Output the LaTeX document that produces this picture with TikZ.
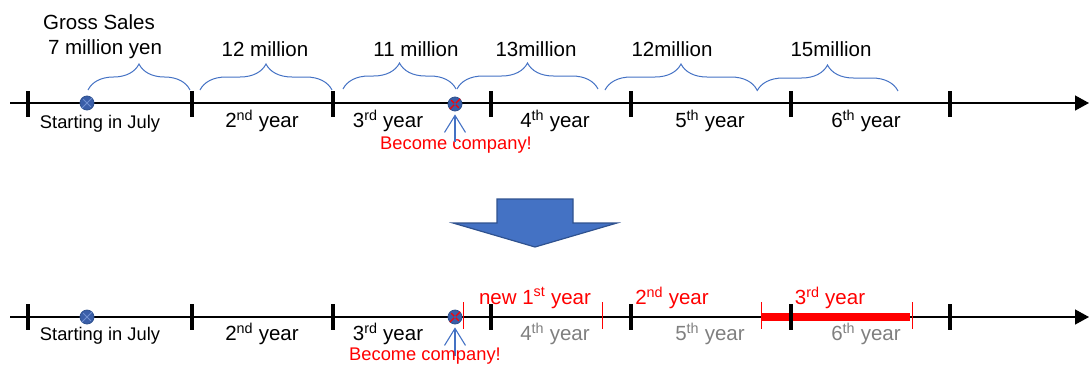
\documentclass[tikz,border=0pt]{standalone}
\usepackage{fontspec}
\setmainfont{Liberation Sans}
\usetikzlibrary{decorations.pathreplacing,arrows.meta}
\definecolor{bl}{HTML}{4472C4}
\definecolor{bldark}{HTML}{2F528F}
\definecolor{dotfill}{HTML}{3A5EA8}
\definecolor{dotx}{HTML}{6F8FD0}
\definecolor{rd}{HTML}{FF0000}
\definecolor{gr}{HTML}{7F7F7F}
\tikzset{
  axis/.style={line width=1.4pt, draw=black, -{Triangle[length=14pt,width=15pt]}},
  tick/.style={line width=3.2pt, draw=black},
  dot/.style={circle, fill=dotfill, draw=bldark, line width=0.8pt, minimum size=14pt, inner sep=0pt},
  brc/.style={draw=bl, line width=1pt, decorate, decoration={brace, amplitude=26pt}},
  big/.style={inner sep=0pt, font=\fontsize{20.5}{24}\selectfont},
  small/.style={inner sep=0pt, font=\fontsize{18.3}{22}\selectfont},
  upar/.style={draw=bl, line width=1.1pt, -{Straight Barb[length=17pt,width=21pt]}, shorten >=3pt},
  rtick/.style={draw=rd, line width=0.9pt},
}
\begin{document}
\begin{tikzpicture}[x=1pt,y=-1pt]
\useasboundingbox (0,0) rectangle (1090,365);

% ---------- top timeline ----------
\coordinate (L1) at (10,103);
\coordinate (R1) at (1089,103);
\draw[axis] (L1) -- (R1);
\foreach \x in {28,192,333,491,631,791,950}
  \draw[tick] (\x,91) -- (\x,117);

\node[dot] (d1) at (87,103) {};
\draw[dotx, line width=0.9pt, shorten <=2pt, shorten >=2pt] (d1.45) -- (d1.225) (d1.135) -- (d1.315);
\node[dot] (d2) at (455,104) {};
\draw[rd, line width=1.3pt, shorten <=2pt, shorten >=2pt] (d2.45) -- (d2.225) (d2.135) -- (d2.315);
\fill[dotfill] (d2) circle (1.6pt);

% braces
\coordinate (b1a) at (88,90);  \coordinate (b1b) at (190,90);
\coordinate (b2a) at (200,90); \coordinate (b2b) at (332,90);
\coordinate (b3a) at (343,89); \coordinate (b3b) at (456,89);
\coordinate (b4a) at (457,89); \coordinate (b4b) at (598,89);
\coordinate (b5a) at (605,90); \coordinate (b5b) at (757,90);
\coordinate (b6a) at (757,91); \coordinate (b6b) at (898,91);
\draw[brc] (b1a) -- (b1b);
\draw[brc] (b2a) -- (b2b);
\draw[brc] (b3a) -- (b3b);
\draw[brc] (b4a) -- (b4b);
\draw[brc] (b5a) -- (b5b);
\draw[brc] (b6a) -- (b6b);

\node[big] (gs) at (99,22) {Gross Sales};
\node[big] (s1) at (105,49) {7 million yen};
\node[big] (s2) at (265,49) {12 million};
\node[big] (s3) at (416,49) {11 million};
\node[big] (s4) at (536,49) {13million};
\node[big] (s5) at (672,49) {12million};
\node[big] (s6) at (831,49) {15million};

\node[small] (y1) at (100,124) {Starting in July};
\node[big] (y2) at (262,121) {2\textsuperscript{nd} year};
\node[big] (y3) at (388,121) {3\textsuperscript{rd} year};
\node[big] (y4) at (555,121) {4\textsuperscript{th} year};
\node[big] (y5) at (710,121) {5\textsuperscript{th} year};
\node[big] (y6) at (866,121) {6\textsuperscript{th} year};

\node[small, text=rd] (bc1) at (456,145) {Become company!};
\coordinate (u1) at (455,142);
\draw[upar] (u1) -- (d2.south);

% ---------- big down arrow ----------
\fill[bl, draw=bldark, line width=1.2pt]
  (497,199) -- (573,199) -- (573,223) -- (617,223) -- (535,247) -- (453,223) -- (497,223) -- cycle;

% ---------- bottom timeline ----------
\coordinate (L2) at (10,317);
\coordinate (R2) at (1089,317);
\draw[axis] (L2) -- (R2);

% red bar
\coordinate (rb1) at (762,317);
\coordinate (rb2) at (910,317);
\draw[rd, line width=8.5pt] (rb1) -- (rb2);

\foreach \x in {28,192,333,491,631,791,950}
  \draw[tick] (\x,304) -- (\x,330);

\foreach \x in {463,602,761,912}
  \draw[rtick] (\x,302) -- (\x,329);

\node[dot] (e1) at (87,317) {};
\draw[dotx, line width=0.9pt, shorten <=2pt, shorten >=2pt] (e1.45) -- (e1.225) (e1.135) -- (e1.315);
\node[dot] (e2) at (455,317) {};
\draw[rd, line width=1.3pt, shorten <=2pt, shorten >=2pt] (e2.45) -- (e2.225) (e2.135) -- (e2.315);
\fill[dotfill] (e2) circle (1.6pt);

\node[big, text=rd] (n1) at (535,298) {new 1\textsuperscript{st} year};
\node[big, text=rd] (n2) at (672,298) {2\textsuperscript{nd} year};
\node[big, text=rd] (n3) at (830,298) {3\textsuperscript{rd} year};

\node[small] (z1) at (100,336) {Starting in July};
\node[big] (z2) at (262,334) {2\textsuperscript{nd} year};
\node[big] (z3) at (388,334) {3\textsuperscript{rd} year};
\node[big, text=gr] (z4) at (555,334) {4\textsuperscript{th} year};
\node[big, text=gr] (z5) at (710,334) {5\textsuperscript{th} year};
\node[big, text=gr] (z6) at (866,334) {6\textsuperscript{th} year};

\coordinate (u2) at (455,356);
\draw[upar] (u2) -- (e2.south);
\node[small, text=rd] (bc2) at (425,356) {Become company!};
\end{tikzpicture}
\end{document}
